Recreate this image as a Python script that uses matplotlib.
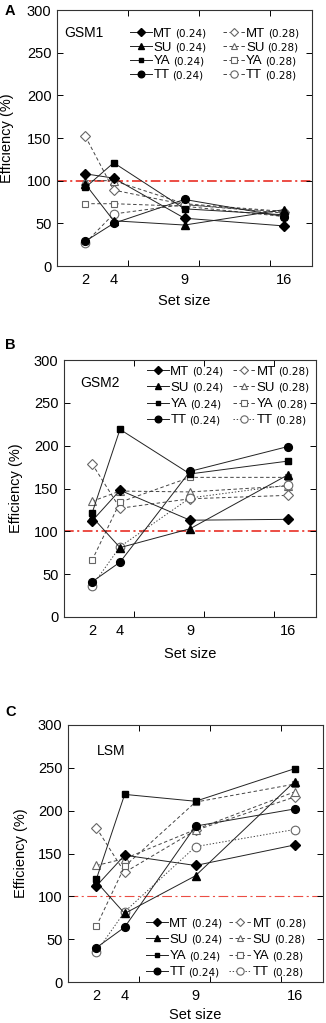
import matplotlib
matplotlib.use('Agg')
import matplotlib.pyplot as plt
from matplotlib.ticker import NullFormatter
from matplotlib.transforms import IdentityTransform

plt.rcParams['font.family'] = ['Liberation Sans', 'DejaVu Sans']
plt.rcParams['lines.scale_dashes'] = False

# ---- data ----
set_sizes = [2, 4, 9, 16]
subjects = ['MT', 'SU', 'YA', 'TT']

# rows: MT, SU, YA, TT
gsm1_024 = [[108, 103, 56, 47],
            [96, 53, 48, 66],
            [92, 121, 67, 60],
            [29, 50, 78, 58]]
gsm1_028 = [[152, 89, 72, 63],
            [100, 100, 73, 64],
            [73, 73, 70, 58],
            [27, 61, 72, 62]]

gsm2_024 = [[112, 148, 113, 114],
            [117, 81, 103, 166],
            [121, 219, 167, 182],
            [41, 64, 170, 199]]
gsm2_028 = [[179, 127, 138, 142],
            [135, 147, 146, 153],
            [66, 134, 163, 163],
            [36, 82, 139, 154]]

lsm_024 = [[112, 148, 136, 160],
           [117, 80, 124, 234],
           [120, 219, 211, 249],
           [40, 64, 182, 202]]
lsm_028 = [[180, 128, 177, 216],
           [136, 144, 178, 222],
           [65, 135, 210, 231],
           [35, 82, 158, 178]]

# ---- styles ----
markers = ['D', '^', 's', 'o']
msize_filled = [4.6, 5.2, 4.2, 5.6]
msize_open = [5.2, 5.6, 4.8, 6.2]
red = '#ec4d44'

W, H = 326, 1023
fig = plt.figure(figsize=(W / 100, H / 100), dpi=100)


def px_axes(left, top, right, bottom):
    return fig.add_axes([left / W, 1 - bottom / H, (right - left) / W, (bottom - top) / H])


def draw_panel(ax, data_024, data_028, title, title_xy, letter, letter_xy,
               leg_anchor, colspace, rowspace, tt_dotted, red_lw, ylab_x, xlab_y):
    ax.axhline(100, color=red, lw=red_lw, ls=(0, (7, 2.5, 1.5, 2.5)), zorder=1)

    handles = []
    for i, name in enumerate(subjects):
        ln, = ax.plot(set_sizes, data_024[i], color='#222222', lw=0.7,
                      marker=markers[i], ms=msize_filled[i], mfc='black', mec='black',
                      label=name, zorder=4)
        handles.append(ln)
    for i, name in enumerate(subjects):
        ls = (0, (1, 1.3)) if (tt_dotted and name == 'TT') else (0, (2.5, 1.8))
        ln, = ax.plot(set_sizes, data_028[i], color='#444444', lw=0.7, ls=ls,
                      marker=markers[i], ms=msize_open[i], mfc='white', mec='#666666',
                      mew=0.8, label=name, zorder=3)
        handles.append(ln)

    ax.set_xlim(0, 18)
    ax.set_ylim(0, 300)
    ax.set_yticks(range(0, 301, 50))
    ax.set_xticks([5, 10, 15])
    ax.xaxis.set_major_formatter(NullFormatter())
    ax.set_xticks(set_sizes, labels=[str(s) for s in set_sizes], minor=True)
    ax.tick_params(which='major', direction='in', top=True, right=True,
                   length=4, width=0.7, labelsize=10.5, pad=4)
    ax.tick_params(which='minor', axis='x', length=0, top=False, labelsize=10.5, pad=5)
    for sp in ax.spines.values():
        sp.set_linewidth(0.8)
        sp.set_color('#333333')

    ax.set_ylabel('Efficiency (%)', fontsize=10.5)
    ax.yaxis.set_label_coords(ylab_x, 0.5)
    ax.set_xlabel('Set size', fontsize=10.5)
    ax.xaxis.set_label_coords(0.5, xlab_y)

    ax.text(title_xy[0], title_xy[1], title, transform=ax.transAxes,
            fontsize=10, va='center', ha='left')
    fig.text(letter_xy[0] / W, 1 - letter_xy[1] / H, letter, fontsize=10.5,
             fontweight='bold', va='top', ha='left')

    leg = ax.legend(handles=handles, ncol=2, loc='upper left',
                    bbox_to_anchor=(leg_anchor[0] / W, 1 - leg_anchor[1] / H),
                    bbox_transform=fig.transFigure, frameon=False, fontsize=9.5,
                    borderpad=0, borderaxespad=0, handlelength=1.67, markerscale=0.85,
                    handletextpad=0.1, labelspacing=rowspace, columnspacing=colspace)
    return leg


ax_a = px_axes(57, 10, 312, 266)
leg_a = draw_panel(ax_a, gsm1_024, gsm1_028, 'GSM1', (0.03, 0.91), 'A', (5, 4),
                   (130, 27.5), 3.8, 0.12, False, 1.4, -0.169, -0.11)

ax_b = px_axes(64, 360, 316, 617)
leg_b = draw_panel(ax_b, gsm2_024, gsm2_028, 'GSM2', (0.065, 0.91), 'B', (5, 338),
                   (147, 365.5), 3.3, 0.3, True, 1.4, -0.163, -0.115)

ax_c = px_axes(68, 725, 323, 982)
leg_c = draw_panel(ax_c, lsm_024, lsm_028, 'LSM', (0.115, 0.9), 'C', (5, 705),
                   (146, 917.5), 3.1, 0.3, True, 0.8, -0.157, -0.1)

# smaller "(0.24)" / "(0.28)" tags after each legend name
fig.canvas.draw()
suffixes = ['(0.24)'] * 4 + ['(0.28)'] * 4
for leg in (leg_a, leg_b, leg_c):
    for t, suf in zip(leg.get_texts(), suffixes):
        bb = t.get_window_extent()
        x0, y0 = t.get_transform().transform(t.get_position())
        fig.text(bb.x1 + 3, y0, suf, transform=IdentityTransform(),
                 family='DejaVu Sans', fontsize=7.5, va='baseline', ha='left')

fig.savefig('out.png', dpi=100)
